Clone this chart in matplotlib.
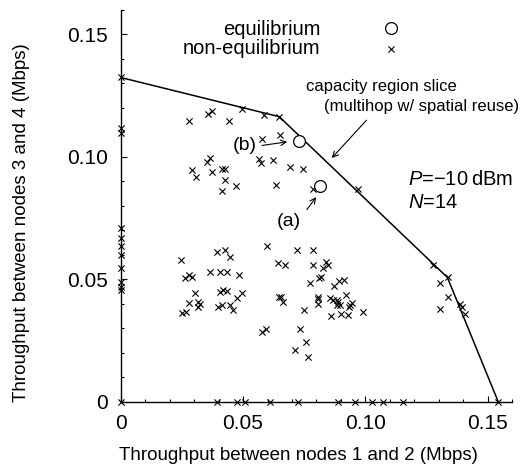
import matplotlib
matplotlib.use('Agg')
import matplotlib.pyplot as plt
import numpy as np

plt.rcParams['font.family'] = ['Liberation Sans', 'DejaVu Sans']
plt.rcParams['mathtext.fontset'] = 'custom'
plt.rcParams['mathtext.rm'] = 'Liberation Sans'
plt.rcParams['mathtext.it'] = 'Liberation Sans:italic'

# capacity region slice (vertices)
cap_x = [0.0, 0.0648, 0.1335, 0.1543]
cap_y = [0.1324, 0.1164, 0.0508, 0.0]

# equilibrium points: (b), (a)
eq_x = [0.0730, 0.0815]
eq_y = [0.1063, 0.0880]

# non-equilibrium points on the axes
axis0_y = [0.1324, 0.1117, 0.1097, 0.0710, 0.0668, 0.0635, 0.0600, 0.0546,
           0.0491, 0.0469, 0.0455, 0.0]
axis0_x = [0.0392, 0.0474, 0.0508, 0.0610, 0.0726, 0.0889, 0.0957, 0.1028,
           0.1073, 0.1152, 0.1543]

# non-equilibrium points inside
ne_x = [0.0281, 0.0358, 0.0373, 0.0441, 0.0496, 0.0586, 0.0648, 0.0578, 0.0651,
        0.0351, 0.0365, 0.0290, 0.0308, 0.0375, 0.0412, 0.0425, 0.0426, 0.0414,
        0.0471, 0.0567, 0.0573, 0.0624, 0.0690, 0.0745, 0.0633, 0.0786, 0.0968,
        # lower left cluster
        0.0246, 0.0392, 0.0426, 0.0447, 0.0263, 0.0281, 0.0290, 0.0304, 0.0281,
        0.0249, 0.0268, 0.0317, 0.0324, 0.0317, 0.0367, 0.0404, 0.0433, 0.0484,
        0.0405, 0.0419, 0.0434, 0.0396, 0.0416, 0.0448, 0.0457, 0.0475, 0.0495,
        # middle cluster
        0.0599, 0.0644, 0.0670, 0.0646, 0.0656, 0.0662, 0.0576, 0.0592, 0.0722,
        0.0785, 0.0787, 0.0840, 0.0848, 0.0825, 0.0817, 0.0812, 0.0774, 0.0871,
        0.0893, 0.0911, 0.0805, 0.0808, 0.0805, 0.0749, 0.0857, 0.0868, 0.0882,
        0.0889, 0.0884, 0.0896, 0.0921, 0.0937, 0.0944, 0.0932, 0.0989, 0.0858,
        0.0899, 0.0930, 0.0734, 0.0757, 0.0712, 0.0767,
        # right group
        0.1278, 0.1336, 0.1305, 0.1337, 0.1305, 0.1387, 0.1394, 0.1407]
ne_y = [0.1148, 0.1176, 0.1186, 0.1147, 0.1196, 0.1171, 0.1164, 0.1074, 0.1090,
        0.0981, 0.0995, 0.0947, 0.0918, 0.0940, 0.0949, 0.0949, 0.0904, 0.0862,
        0.0880, 0.0990, 0.0977, 0.0988, 0.0958, 0.0950, 0.0884, 0.0870, 0.0870,
        0.0580, 0.0611, 0.0619, 0.0591, 0.0506, 0.0520, 0.0511, 0.0446, 0.0405,
        0.0364, 0.0367, 0.0409, 0.0398, 0.0386, 0.0529, 0.0532, 0.0532, 0.0516,
        0.0450, 0.0456, 0.0452, 0.0387, 0.0394, 0.0394, 0.0377, 0.0423, 0.0446,
        0.0637, 0.0566, 0.0557, 0.0430, 0.0428, 0.0409, 0.0287, 0.0297, 0.0620,
        0.0620, 0.0557, 0.0569, 0.0557, 0.0546, 0.0511, 0.0505, 0.0484, 0.0472,
        0.0495, 0.0497, 0.0427, 0.0422, 0.0400, 0.0376, 0.0423, 0.0416, 0.0414,
        0.0406, 0.0394, 0.0396, 0.0437, 0.0396, 0.0404, 0.0387, 0.0369, 0.0351,
        0.0360, 0.0353, 0.0297, 0.0244, 0.0210, 0.0182,
        0.0557, 0.0508, 0.0487, 0.0430, 0.0380, 0.0398, 0.0389, 0.0360]

xs = np.concatenate([np.zeros(len(axis0_y)), axis0_x, ne_x])
ys = np.concatenate([axis0_y, np.zeros(len(axis0_x)), ne_y])

fig = plt.figure(figsize=(5.27, 4.69), dpi=100)
ax = fig.add_axes([0.229, 0.143, 0.743, 0.836])

ax.plot(cap_x, cap_y, color='black', lw=1.1, zorder=2)
ax.scatter(xs, ys, marker='x', s=20, color='black', linewidths=0.8,
           clip_on=False, zorder=3, label='non-equilibrium')
ax.plot(eq_x, eq_y, 'o', ms=8.5, mfc='white', mec='black', mew=0.9,
        ls='none', zorder=4, label='equilibrium')

ax.set_xlim(0, 0.16)
ax.set_ylim(0, 0.16)
ax.set_xticks([0, 0.05, 0.10, 0.15])
ax.set_xticklabels(['0', '0.05', '0.10', '0.15'])
ax.set_yticks([0, 0.05, 0.10, 0.15])
ax.set_yticklabels(['0', '0.05', '0.10', '0.15'])
ax.set_xticks(np.arange(0, 0.161, 0.01), minor=True)
ax.set_yticks(np.arange(0, 0.161, 0.01), minor=True)
ax.tick_params(which='both', direction='in', width=0.8)
ax.tick_params(which='major', length=4, labelsize=15, pad=9)
ax.tick_params(which='minor', length=2)
ax.spines['top'].set_visible(False)
ax.spines['right'].set_visible(False)
ax.spines['left'].set_linewidth(1)
ax.spines['bottom'].set_linewidth(1)

ax.set_xlabel('Throughput between nodes 1 and 2 (Mbps)', fontsize=13.5)
ax.set_ylabel('Throughput between nodes 3 and 4 (Mbps)', fontsize=13.5)
ax.xaxis.set_label_coords(0.453, -0.115)
ax.yaxis.set_label_coords(-0.232, 0.457)

h, l = ax.get_legend_handles_labels()
ax.legend(h[::-1], l[::-1], loc='upper right', bbox_to_anchor=(0.778, 1.01),
          markerfirst=False, frameon=False, fontsize=14.5, handlelength=2,
          handletextpad=2.5, labelspacing=0.0, borderpad=0.2)

ax.text(0.1064, 0.1286, 'capacity region slice', fontsize=12, ha='center', va='center')
ax.text(0.1228, 0.1204, '(multihop w/ spatial reuse)', fontsize=12,
        ha='center', va='center')
ax.annotate('', xy=(0.0855, 0.0987), xytext=(0.1012, 0.1158),
            arrowprops=dict(arrowstyle='->', lw=0.8, color='black'))

ax.text(0.0508, 0.1045, '(b)', fontsize=14, ha='center', va='center')
ax.annotate('', xy=(0.0692, 0.1063), xytext=(0.0566, 0.1045),
            arrowprops=dict(arrowstyle='->', lw=0.8, color='black'))
ax.text(0.0688, 0.0736, '(a)', fontsize=14, ha='center', va='center')
ax.annotate('', xy=(0.0806, 0.0845), xytext=(0.0754, 0.0776),
            arrowprops=dict(arrowstyle='->', lw=0.8, color='black'))

ax.text(0.1174, 0.0906, '$P$=\u221210\u2009dBm', fontsize=14.5, ha='left', va='center')
ax.text(0.1174, 0.0812, '$N$=14', fontsize=14.5, ha='left', va='center')

fig.savefig('out.png', dpi=100)
